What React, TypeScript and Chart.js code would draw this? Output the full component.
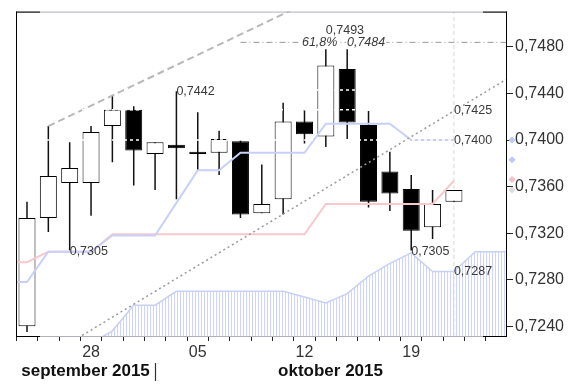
import React, { useEffect, useRef } from 'react';
import { Chart, registerables } from 'chart.js';

Chart.register(...registerables);

const FONT = '"Liberation Sans", Arial, Helvetica, sans-serif';

// trading days from 23 Sep 2015 (index 0) to 23 Oct 2015 (index 22)
const dayLabels = ['', '', '', '28', '', '', '', '', '05', '', '', '', '', '12', '', '', '', '', '19', '', '', '', ''];
const monthLabels = ['september 2015', 'oktober 2015'];
const monthSplitIdx = 6; // first trading day of October

const candleOpen = [0.7240, 0.7333, 0.7363, 0.7363, 0.7412, 0.7426, 0.7388, 0.7396, 0.7390, 0.7389, 0.7399, 0.7337, 0.7349, 0.7416, 0.7403, 0.7461, 0.7413, 0.7373, 0.7358, 0.7325, 0.7347];
const candleHigh = [0.7347, 0.7412, 0.7398, 0.7412, 0.7438, 0.7429, 0.7398, 0.7442, 0.7424, 0.7408, 0.7400, 0.7379, 0.7432, 0.7426, 0.7478, 0.7478, 0.7425, 0.7390, 0.7370, 0.7357, 0.7357];
const candleLow = [0.7235, 0.7321, 0.7305, 0.7335, 0.7381, 0.7361, 0.7357, 0.7349, 0.7374, 0.7370, 0.7333, 0.7337, 0.7336, 0.7397, 0.7394, 0.7401, 0.7342, 0.7339, 0.7305, 0.7315, 0.7347];
const candleClose = [0.7333, 0.7369, 0.7376, 0.7407, 0.7426, 0.7391, 0.7398, 0.7393, 0.7388, 0.7401, 0.7336, 0.7345, 0.7416, 0.7405, 0.7464, 0.7415, 0.7347, 0.7354, 0.7322, 0.7345, 0.7357];

const yTicks = [0.7240, 0.7280, 0.7320, 0.7360, 0.7400, 0.7440, 0.7480];

const blueX = [-0.5, 0, 1, 2, 3, 4, 5, 6, 7, 8, 9, 10, 11, 12, 13, 14, 15, 16, 17, 18, 19, 20];
const blueY = [0.7278, 0.7278, 0.7304, 0.7304, 0.7304, 0.7318, 0.7318, 0.7318, 0.7346, 0.7374, 0.7374, 0.7389, 0.7389, 0.7389, 0.7389, 0.7414, 0.7414, 0.7414, 0.7414, 0.7400, 0.7400, 0.7400];

const pinkX = [-0.5, 0, 1, 2, 3, 4, 5, 6, 7, 8, 9, 10, 11, 12, 13, 14, 15, 16, 17, 18, 19, 20];
const pinkY = [0.7295, 0.7295, 0.7304, 0.7304, 0.7304, 0.7319, 0.7319, 0.7319, 0.7319, 0.7319, 0.7319, 0.7319, 0.7319, 0.7319, 0.7319, 0.7345, 0.7345, 0.7345, 0.7345, 0.7345, 0.7345, 0.7365];

const cloudX = [3, 4, 5, 6, 7, 8, 9, 10, 11, 12, 13, 14, 15, 16, 17, 18, 19, 20, 21, 22, 23];
const cloudY = [0.7225, 0.7236, 0.7258, 0.7258, 0.7270, 0.7270, 0.7270, 0.7270, 0.7270, 0.7270, 0.7265, 0.7260, 0.7268, 0.7283, 0.7294, 0.7303, 0.7287, 0.7287, 0.7304, 0.7304, 0.7304];

const trendDotX = [2.58, 22.44];
const trendDotY = [0.7232, 0.7452];
const channelX = [1, 13];
const channelY = [0.7412, 0.7517];
const fibX = [10, 22.44];
const fibY = [0.7484, 0.7484];
const whiteLevels = [0.7443, 0.7426, 0.7400];
const todayIdx = 20;

const markerY = [0.7400, 0.7383, 0.7366, 0.7357];
const markerColor = ['rgb(190,200,246)', 'rgb(190,200,246)', 'rgb(246,190,198)', 'rgb(218,218,224)'];

const annText = ['0,7305', '0,7442', '0,7493', '61,8%', '0,7484', '0,7425', '0,7400', '0,7305', '0,7287'];
const annX = [2, 7, 14, 12.88, 14.99, 20, 20, 18, 20];
const annY = [0.7304, 0.7442, 0.7494, 0.7484, 0.7484, 0.7425, 0.7400, 0.7304, 0.7287];
const annItalic = [false, false, false, true, true, false, false, false, false];

const X_MIN = -0.515;
const X_MAX = 22.44;
const Y_MIN = 0.723155;
const Y_MAX = 0.751042;

const xy = (xs: number[], ys: number[]) => xs.map((x, i) => ({ x, y: ys[i] }));

const overlay = {
  id: 'overlay',
  afterDatasetsDraw(chart: any) {
    const { ctx, scales } = chart;
    const x = scales.x;
    const y = scales.y;
    ctx.save();
    ctx.textBaseline = 'middle';
    ctx.textAlign = 'left';
    for (let i = 0; i < annText.length; i++) {
      ctx.font = (annItalic[i] ? 'italic ' : '') + '12.5px ' + FONT;
      const px = x.getPixelForValue(annX[i]);
      const py = y.getPixelForValue(annY[i]);
      if (annItalic[i]) {
        const w = ctx.measureText(annText[i]).width;
        ctx.fillStyle = '#fff';
        ctx.fillRect(px - 1, py - 6, w + 2, 12);
      }
      ctx.fillStyle = '#3a3a3a';
      ctx.fillText(annText[i], px, py);
    }
    ctx.restore();
  },
  afterDraw(chart: any) {
    const { ctx, chartArea: a, scales } = chart;
    const x = scales.x;
    const y = scales.y;
    ctx.save();
    // frame
    ctx.lineWidth = 1;
    ctx.strokeStyle = '#b0b0b8';
    ctx.strokeRect(a.left + 0.5, a.top + 0.5, a.right - a.left, a.bottom - a.top);
    ctx.strokeStyle = '#000';
    ctx.beginPath();
    ctx.moveTo(a.left + 0.5, a.top);
    ctx.lineTo(a.left + 0.5, a.bottom + 1);
    ctx.moveTo(a.right + 0.5, a.top);
    ctx.lineTo(a.right + 0.5, a.bottom + 1);
    ctx.moveTo(a.left, a.top + 0.5);
    ctx.lineTo(a.left + 24, a.top + 0.5);
    ctx.moveTo(a.right - 23, a.top + 0.5);
    ctx.lineTo(a.right + 1, a.top + 0.5);
    ctx.moveTo(a.left, a.bottom + 0.5);
    ctx.lineTo(a.left + 24, a.bottom + 0.5);
    ctx.moveTo(a.right - 23, a.bottom + 0.5);
    ctx.lineTo(a.right + 1, a.bottom + 0.5);
    ctx.stroke();
    // axis markers
    for (let i = 0; i < markerY.length; i++) {
      const px = a.right + 6;
      const py = y.getPixelForValue(markerY[i]);
      ctx.fillStyle = markerColor[i];
      ctx.beginPath();
      ctx.moveTo(px, py - 3.5);
      ctx.lineTo(px + 3.5, py);
      ctx.lineTo(px, py + 3.5);
      ctx.lineTo(px - 3.5, py);
      ctx.closePath();
      ctx.fill();
    }
    // month labels
    const b = x.getPixelForValue(monthSplitIdx);
    ctx.font = 'bold 17px ' + FONT;
    ctx.fillStyle = '#111';
    ctx.textAlign = 'center';
    ctx.textBaseline = 'middle';
    ctx.fillText(monthLabels[0], (a.left + b) / 2, a.bottom + 35);
    ctx.fillText(monthLabels[1], (b + a.right) / 2, a.bottom + 35);
    ctx.strokeStyle = '#333';
    ctx.lineWidth = 1.2;
    ctx.beginPath();
    ctx.moveTo(Math.round(b) + 0.5, a.bottom + 27);
    ctx.lineTo(Math.round(b) + 0.5, a.bottom + 45);
    ctx.stroke();
    ctx.restore();
  },
};

export default function App() {
  const ref = useRef<HTMLCanvasElement | null>(null);

  useEffect(() => {
    document.body.style.margin = '0';
    const canvas = ref.current;
    if (!canvas) return;
    const ctx = canvas.getContext('2d')!;

    const pc = document.createElement('canvas');
    pc.width = 3;
    pc.height = 4;
    const pctx = pc.getContext('2d')!;
    pctx.fillStyle = 'rgb(206,213,248)';
    pctx.fillRect(0, 0, 1, 4);
    const pattern = ctx.createPattern(pc, 'repeat');

    const idx = candleOpen.map((_, i) => i);
    const bodyData = idx.map((i) => ({ x: i, y: [candleOpen[i], candleClose[i]] }));
    const wickData = idx.map((i) => ({ x: i, y: [candleLow[i], candleHigh[i]] }));
    const bodyColors = idx.map((i) => (candleClose[i] >= candleOpen[i] ? '#ffffff' : '#000000'));

    const lineBase = { type: 'line', pointRadius: 0, tension: 0, fill: false };

    const datasets: any[] = [
      {
        ...lineBase,
        data: xy(cloudX, cloudY),
        fill: 'start',
        backgroundColor: pattern,
        borderColor: 'rgb(200,208,246)',
        borderWidth: 1.5,
        order: 20,
      },
      {
        ...lineBase,
        data: [{ x: todayIdx, y: Y_MIN }, { x: todayIdx, y: Y_MAX }],
        borderColor: '#d8d8d8',
        borderWidth: 1,
        borderDash: [4, 3],
        order: 19,
      },
      {
        ...lineBase,
        data: xy(fibX, fibY),
        borderColor: '#999',
        borderWidth: 1,
        borderDash: [6, 3, 1, 3],
        order: 18,
      },
      {
        type: 'bar',
        data: wickData,
        backgroundColor: '#111',
        borderWidth: 0,
        barThickness: 1.5,
        grouped: false,
        inflateAmount: 0,
        order: 15,
      },
      {
        type: 'bar',
        data: bodyData,
        backgroundColor: bodyColors,
        borderColor: '#000',
        borderWidth: 1,
        borderSkipped: false,
        barThickness: 17,
        grouped: false,
        inflateAmount: 0,
        order: 14,
      },
      {
        ...lineBase,
        data: xy(pinkX, pinkY),
        borderColor: 'rgb(247,200,205)',
        borderWidth: 2,
        order: 13,
      },
      {
        ...lineBase,
        data: xy(blueX, blueY),
        borderColor: 'rgb(200,208,247)',
        borderWidth: 2,
        order: 12,
      },
      {
        ...lineBase,
        data: xy(trendDotX, trendDotY),
        borderColor: '#999',
        borderWidth: 1.5,
        borderDash: [2, 3],
        order: 10,
      },
      {
        ...lineBase,
        data: xy(channelX, channelY),
        borderColor: '#b8b8b8',
        borderWidth: 2,
        borderDash: [7, 4],
        order: 10,
      },
      ...whiteLevels.map((lv) => ({
        ...lineBase,
        data: [{ x: X_MIN, y: lv }, { x: X_MAX, y: lv }],
        borderColor: '#ffffff',
        borderWidth: 1.5,
        borderDash: [3, 3],
        order: 5,
      })),
    ];

    const chart = new Chart(canvas, {
      type: 'line',
      data: { datasets },
      options: {
        animation: false,
        responsive: false,
        devicePixelRatio: 1,
        events: [],
        layout: { padding: { left: 16, top: 6, right: 0, bottom: 0 } },
        plugins: { legend: { display: false }, tooltip: { enabled: false } },
        scales: {
          x: {
            type: 'linear',
            min: X_MIN,
            max: X_MAX,
            offset: false,
            border: { display: false },
            grid: { drawOnChartArea: false, drawTicks: true, tickLength: 5, tickColor: '#222', color: '#222' },
            ticks: {
              autoSkip: false,
              maxRotation: 0,
              padding: 2,
              color: '#333',
              font: { family: FONT, size: 16 },
              callback: (v: any) => dayLabels[Math.round(Number(v))] ?? '',
            },
            afterBuildTicks: (s: any) => {
              s.ticks = dayLabels.map((_, i) => ({ value: i }));
            },
            afterFit: (s: any) => {
              s.height = 52;
            },
          },
          y: {
            type: 'linear',
            position: 'right',
            min: Y_MIN,
            max: Y_MAX,
            border: { display: false },
            grid: { drawOnChartArea: false, drawTicks: true, tickLength: 7, tickColor: '#222', color: '#222' },
            ticks: {
              padding: 2,
              color: '#333',
              font: { family: FONT, size: 16 },
              callback: (v: any) => Number(v).toFixed(4).replace('.', ','),
            },
            afterBuildTicks: (s: any) => {
              s.ticks = yTicks.map((v) => ({ value: v }));
            },
            afterFit: (s: any) => {
              s.width = 65;
            },
          },
        },
      },
      plugins: [overlay],
    } as any);

    return () => chart.destroy();
  }, []);

  return (
    <div style={{ width: 571, height: 388 }}>
      <canvas ref={ref} width={571} height={388} style={{ display: 'block' }} />
    </div>
  );
}
